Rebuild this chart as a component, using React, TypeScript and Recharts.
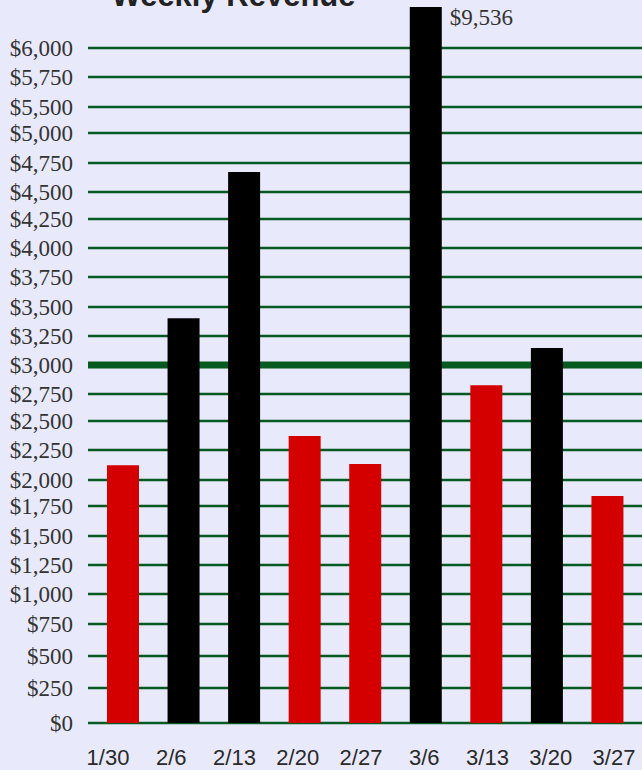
import { Bar, BarChart, CartesianGrid, Cell, LabelList, XAxis, YAxis } from 'recharts'

const weeks = ['1/30', '2/6', '2/13', '2/20', '2/27', '3/6', '3/13', '3/20', '3/27']
const revenue = [2159, 3391, 4617, 2405, 2170, 9536, 2830, 3143, 1902]

// where the gridlines sit on the bar scale, and what they are labelled
const gridValues = [
  0, 293, 562, 830, 1081, 1324, 1567, 1818, 2036, 2288, 2531, 2757, 3000, 3243, 3486, 3737, 3980,
  4223, 4450, 4693, 4944, 5162, 5413, 5656,
]
const gridLabels = [
  '$0', '$250', '$500', '$750', '$1,000', '$1,250', '$1,500', '$1,750', '$2,000', '$2,250',
  '$2,500', '$2,750', '$3,000', '$3,250', '$3,500', '$3,750', '$4,000', '$4,250', '$4,500',
  '$4,750', '$5,000', '$5,500', '$5,750', '$6,000',
]
const target = 3000
const yMax = 6000

const RED = '#d40000'
const GREEN = '#075a1f'
const BG = '#e9e9fc'
const SERIF = '"Liberation Serif", "Times New Roman", serif'
const SANS = '"Liberation Sans", Arial, sans-serif'
const MARGIN = { top: 7, right: 0, left: 8, bottom: 0 }

const data = weeks.map((week, i) => ({ week, revenue: revenue[i] }))

function OverflowLabel(props: any) {
  const { x, y, width, value } = props
  if (value <= yMax) return null
  const top = Math.max(Number(y), MARGIN.top)
  return (
    <text x={Number(x) + Number(width) + 8} y={top + 18} fill="#333" fontFamily={SERIF} fontSize={23}>
      {'$' + Number(value).toLocaleString('en-US')}
    </text>
  )
}

function GridLine(p: any) {
  if (p.index == null || p.index >= gridValues.length) return <g key={p.key} />
  return (
    <line
      key={p.key}
      x1={p.x1}
      y1={p.y1}
      x2={p.x2}
      y2={p.y2}
      stroke={GREEN}
      strokeWidth={gridValues[p.index] === target ? 7 : 2.4}
    />
  )
}

export default function App() {
  return (
    <div style={{ position: 'relative', width: 642, height: 770, overflow: 'hidden' }}>
      <style>{`body { margin: 0; background: ${BG}; }`}</style>
      <div
        style={{
          position: 'absolute',
          left: 0,
          top: -20,
          width: 467,
          textAlign: 'center',
          fontFamily: SANS,
          fontWeight: 700,
          fontSize: 31,
          lineHeight: '31px',
          color: '#222',
        }}
      >
        Weekly Revenue
      </div>
      <BarChart width={642} height={770} data={data} margin={MARGIN}>
        <CartesianGrid vertical={false} horizontal={GridLine} />
        <XAxis
          xAxisId="labels"
          dataKey="week"
          scale="point"
          padding={{ left: 20, right: 28 }}
          height={47}
          axisLine={false}
          tickLine={false}
          tickSize={0}
          tickMargin={26}
          interval={0}
          tick={{ fontFamily: SANS, fontSize: 22, fill: '#2a2a2a' }}
        />
        <XAxis xAxisId="bars" dataKey="week" hide height={0} padding={{ left: 5, right: 4 }} />
        <YAxis
          type="number"
          domain={[0, yMax]}
          allowDataOverflow
          ticks={gridValues}
          interval={0}
          width={80}
          axisLine={false}
          tickLine={false}
          tickSize={0}
          tickMargin={15}
          tickFormatter={(v: number) => gridLabels[gridValues.indexOf(v)]}
          tick={{ fontFamily: SERIF, fontSize: 23, fill: '#333' }}
        />
        <Bar xAxisId="bars" dataKey="revenue" barSize={32} isAnimationActive={false}>
          {data.map((d) => (
            <Cell key={d.week} fill={d.revenue >= target ? '#000' : RED} />
          ))}
          <LabelList dataKey="revenue" content={OverflowLabel} />
        </Bar>
      </BarChart>
    </div>
  )
}
